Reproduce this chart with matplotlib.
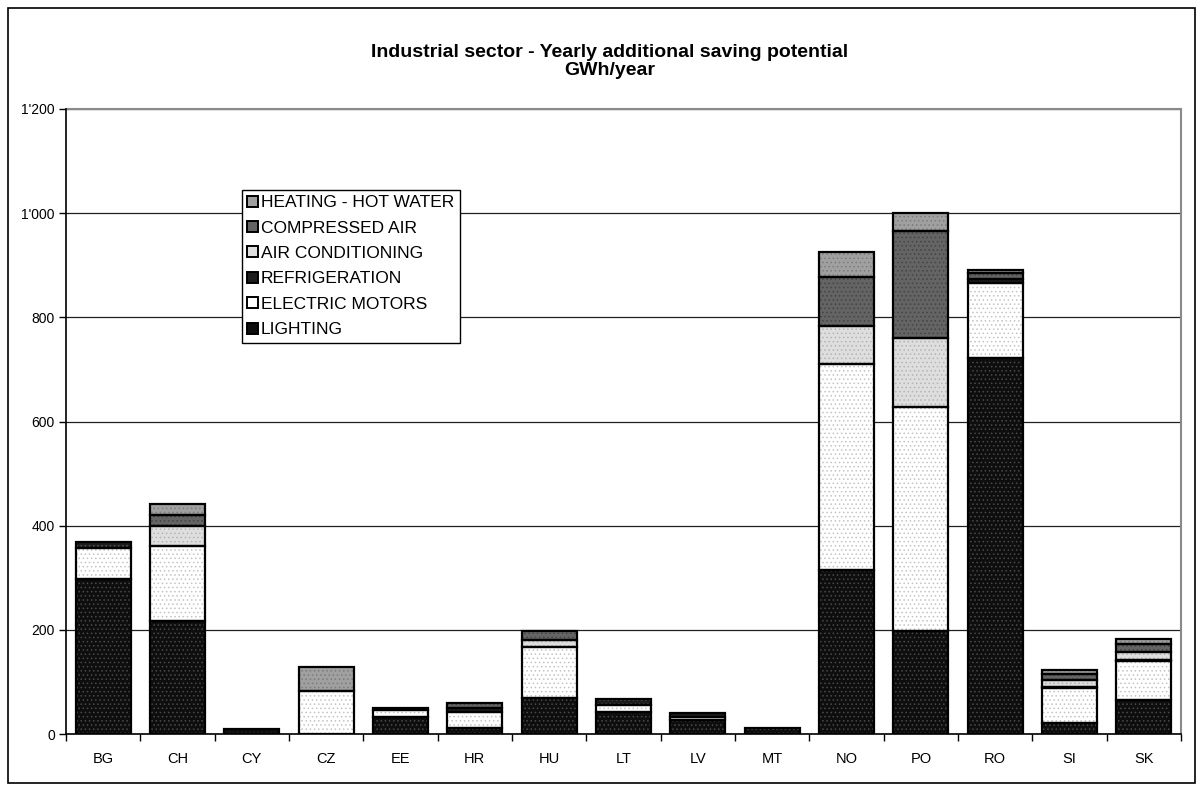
import matplotlib
matplotlib.use("Agg")
import matplotlib.pyplot as plt
from matplotlib.patches import Patch, Rectangle
from matplotlib.ticker import FuncFormatter, FixedLocator
import numpy as np

plt.rcParams['font.family'] = ['Liberation Sans', 'DejaVu Sans']
plt.rcParams['hatch.linewidth'] = 0.6

# Yearly additional saving potential per end use, GWh/year
countries = ["BG", "CH", "CY", "CZ", "EE", "HR", "HU", "LT", "LV", "MT",
             "NO", "PO", "RO", "SI", "SK"]
lighting = [297, 217, 10, 0, 32, 11, 69, 42, 27, 11, 315, 198, 722, 21, 66]
electric_motors = [60, 144, 0, 83, 14, 31, 99, 14, 6, 0, 395, 430, 143, 67, 74]
refrigeration = [12, 0, 0, 0, 4, 7, 0, 11, 8, 0, 0, 0, 8, 2, 3]
air_conditioning = [0, 38, 0, 0, 0, 0, 13, 0, 0, 0, 73, 132, 0, 13, 15]
compressed_air = [0, 21, 0, 0, 0, 10, 16, 0, 0, 0, 94, 205, 12, 12, 15]
heating_hot_water = [0, 22, 0, 45, 0, 0, 0, 0, 0, 0, 48, 35, 6, 8, 9]

series_names = ["LIGHTING", "ELECTRIC MOTORS", "REFRIGERATION",
                "AIR CONDITIONING", "COMPRESSED AIR", "HEATING - HOT WATER"]
series_values = [lighting, electric_motors, refrigeration,
                 air_conditioning, compressed_air, heating_hot_water]
# (fill colour, dot colour) for the dotted pattern fills
series_styles = [("#0e0e0e", "#4a4a4a"),
                 ("#ffffff", "#c4c4c4"),
                 ("#1c1c1c", "#5a5a5a"),
                 ("#dedede", "#b4b4b4"),
                 ("#646464", "#444444"),
                 ("#a0a0a0", "#7c7c7c")]

W, H = 1203, 790
fig = plt.figure(figsize=(W / 100, H / 100), dpi=100)
fig.patch.set_facecolor("white")

ax = fig.add_axes([66 / W, 1 - 734 / H, (1181 - 66) / W, (734 - 109) / H])

x = np.arange(len(countries))
width = 0.74
bottom = np.zeros(len(countries))
for name, vals, (face, dots) in zip(series_names, series_values, series_styles):
    vals = np.asarray(vals, dtype=float)
    m = vals > 0
    ax.bar(x[m], vals[m], width, bottom=bottom[m], color=face,
           edgecolor=dots, hatch="....", linewidth=0, zorder=3)
    ax.bar(x[m], vals[m], width, bottom=bottom[m], fill=False,
           edgecolor="black", linewidth=1.6, zorder=4)
    bottom += vals

ax.set_xlim(-0.5, len(countries) - 0.5)
ax.set_ylim(0, 1200)

ax.set_yticks(np.arange(0, 1201, 200))
ax.yaxis.set_major_formatter(FuncFormatter(lambda v, p: f"{int(v):,}".replace(",", "'")))
ax.grid(axis="y", color="#202020", linewidth=0.9, zorder=0)
ax.set_axisbelow(True)

ax.set_xticks(x)
ax.set_xticklabels(countries)
ax.xaxis.set_minor_locator(FixedLocator(np.arange(-0.5, len(countries), 1.0)))
ax.tick_params(axis="x", which="major", length=0, pad=13, labelsize=10.5)
ax.tick_params(axis="x", which="minor", length=5, width=1, color="black", direction="out")
ax.tick_params(axis="y", length=5, width=1, color="black", labelsize=10, pad=3)

for side in ("left", "bottom"):
    ax.spines[side].set_color("black")
    ax.spines[side].set_linewidth(1.2)
    ax.spines[side].set_zorder(5)
for side in ("top", "right"):
    ax.spines[side].set_color("#8a8a8a")
    ax.spines[side].set_linewidth(1.5)

handles = [Patch(facecolor=face, edgecolor="black", linewidth=1.4, label=name)
           for name, (face, dots) in zip(series_names, series_styles)]
leg = ax.legend(handles=handles[::-1], loc="upper left",
                bbox_to_anchor=((242 - 66) / (1181 - 66), (734 - 190) / (734 - 109)),
                borderaxespad=0, fontsize=12.5, frameon=True, fancybox=False,
                framealpha=1, edgecolor="black", handlelength=0.6,
                handleheight=0.6, handletextpad=0.2, labelspacing=0.6,
                borderpad=0.3)
leg.get_frame().set_linewidth(1.0)
leg.set_zorder(10)

# Two-line chart title
fig.text(610 / W, 1 - 57 / H, "Industrial sector - Yearly additional saving potential",
         ha="center", va="baseline", fontsize=14, fontweight="bold")
fig.text(610 / W, 1 - 75 / H, "GWh/year",
         ha="center", va="baseline", fontsize=14, fontweight="bold")

fig.patches.append(Rectangle((8 / W, 1 - 783 / H), (1195 - 8) / W, (783 - 8) / H,
                             transform=fig.transFigure, fill=False,
                             edgecolor="black", linewidth=1.2))

fig.savefig("out.png", dpi=100, facecolor="white")
